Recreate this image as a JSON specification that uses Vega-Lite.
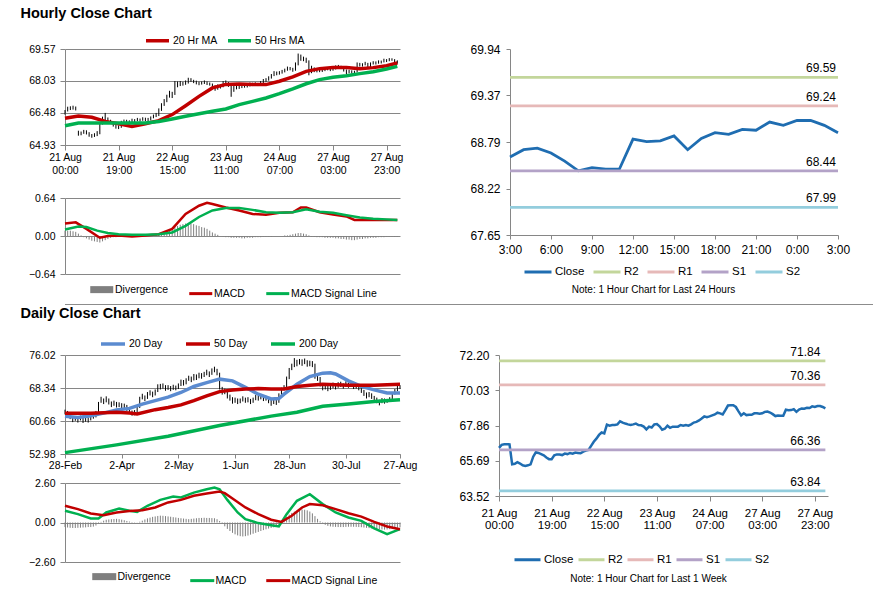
{
"$schema": "https://vega.github.io/schema/vega-lite/v6.json",
"padding": {"left": 20, "top": 5, "right": 0, "bottom": 0},
"config": {
 "view": {"stroke": null},
 "font": "Liberation Sans",
 "axis": {"labelFont": "Liberation Sans", "labelColor": "#000000", "domainColor": "#868686", "tickColor": "#868686", "gridColor": "#868686", "gridOpacity": 1},
 "legend": {"labelFont": "Liberation Sans", "labelColor": "#000000", "padding": 0},
 "title": {"font": "Liberation Sans", "color": "#000000"},
 "text": {"font": "Liberation Sans"}
},
"datasets": {
 "hourly": [
  {"i":0,"c":66.48,"h":66.62,"l":66.40,"d":0.09},{"i":1,"c":66.67,"h":66.78,"l":66.55,"d":0.09},{"i":2,"c":66.71,"h":66.80,"l":66.62,"d":0.09},{"i":3,"c":66.71,"h":66.83,"l":66.64,"d":0.08},{"i":4,"c":66.70,"h":66.79,"l":66.60,"d":0.07},
  {"i":5,"c":65.47,"h":65.62,"l":65.38,"d":0.04},{"i":6,"c":65.50,"h":65.58,"l":65.40,"d":0.01},{"i":7,"c":65.60,"h":65.66,"l":65.47,"d":-0.02},{"i":8,"c":65.52,"h":65.64,"l":65.44,"d":-0.04},{"i":9,"c":65.41,"h":65.55,"l":65.33,"d":-0.06},
  {"i":10,"c":65.37,"h":65.46,"l":65.28,"d":-0.08},{"i":11,"c":65.41,"h":65.50,"l":65.32,"d":-0.09},{"i":12,"c":65.47,"h":65.60,"l":65.36,"d":-0.10},{"i":13,"c":65.94,"h":66.02,"l":65.45,"d":-0.11},{"i":14,"c":66.21,"h":66.30,"l":65.92,"d":-0.09},
  {"i":15,"c":66.17,"h":66.48,"l":66.08,"d":-0.07},{"i":16,"c":66.10,"h":66.26,"l":66.02,"d":-0.05},{"i":17,"c":66.02,"h":66.15,"l":65.95,"d":-0.03},{"i":18,"c":65.89,"h":66.05,"l":65.82,"d":-0.02},{"i":19,"c":65.79,"h":65.94,"l":65.72,"d":-0.02},
  {"i":20,"c":65.79,"h":65.88,"l":65.70,"d":-0.01},{"i":21,"c":66.02,"h":66.10,"l":65.76,"d":-0.01},{"i":22,"c":66.08,"h":66.16,"l":65.98,"d":0.00},{"i":23,"c":66.08,"h":66.15,"l":66.00,"d":-0.01},{"i":24,"c":66.04,"h":66.12,"l":65.96,"d":0.00},
  {"i":25,"c":66.13,"h":66.20,"l":66.02,"d":0.01},{"i":26,"c":66.10,"h":66.18,"l":66.03,"d":0.00},{"i":27,"c":66.17,"h":66.24,"l":66.08,"d":0.01},{"i":28,"c":66.13,"h":66.21,"l":66.06,"d":0.01},{"i":29,"c":66.19,"h":66.27,"l":66.10,"d":0.01},
  {"i":30,"c":66.17,"h":66.25,"l":66.09,"d":0.01},{"i":31,"c":66.15,"h":66.24,"l":66.08,"d":0.02},{"i":32,"c":66.25,"h":66.31,"l":66.12,"d":0.02},{"i":33,"c":66.32,"h":66.40,"l":66.22,"d":0.02},{"i":34,"c":66.36,"h":66.48,"l":66.28,"d":0.03},
  {"i":35,"c":66.61,"h":66.70,"l":66.33,"d":0.04},{"i":36,"c":66.86,"h":66.95,"l":66.58,"d":0.05},{"i":37,"c":67.05,"h":67.15,"l":66.82,"d":0.07},{"i":38,"c":67.28,"h":67.36,"l":67.00,"d":0.09},{"i":39,"c":67.43,"h":67.55,"l":67.22,"d":0.11},
  {"i":40,"c":67.37,"h":67.50,"l":67.20,"d":0.13},{"i":41,"c":67.91,"h":68.02,"l":67.35,"d":0.15},{"i":42,"c":67.85,"h":68.00,"l":67.72,"d":0.17},{"i":43,"c":67.89,"h":68.02,"l":67.78,"d":0.19},{"i":44,"c":67.89,"h":67.98,"l":67.80,"d":0.20},
  {"i":45,"c":67.93,"h":68.05,"l":67.84,"d":0.21},{"i":46,"c":68.12,"h":68.18,"l":67.90,"d":0.22},{"i":47,"c":68.04,"h":68.16,"l":67.98,"d":0.21},{"i":48,"c":67.98,"h":68.08,"l":67.92,"d":0.20},{"i":49,"c":67.93,"h":68.04,"l":67.86,"d":0.18},
  {"i":50,"c":67.89,"h":67.99,"l":67.82,"d":0.17},{"i":51,"c":67.93,"h":68.00,"l":67.85,"d":0.15},{"i":52,"c":67.98,"h":68.05,"l":67.88,"d":0.14},{"i":53,"c":67.89,"h":68.00,"l":67.83,"d":0.12},{"i":54,"c":67.87,"h":67.95,"l":67.80,"d":0.09},
  {"i":55,"c":67.79,"h":67.90,"l":67.72,"d":0.06},{"i":56,"c":67.62,"h":67.82,"l":67.55,"d":0.04},{"i":57,"c":67.79,"h":67.86,"l":67.60,"d":0.02},{"i":58,"c":67.74,"h":67.85,"l":67.66,"d":0.00},{"i":59,"c":67.93,"h":68.02,"l":67.72,"d":-0.01},
  {"i":60,"c":67.95,"h":68.05,"l":67.85,"d":-0.02},{"i":61,"c":67.81,"h":67.97,"l":67.74,"d":-0.02},{"i":62,"c":67.60,"h":67.85,"l":67.26,"d":-0.03},{"i":63,"c":67.66,"h":67.78,"l":67.50,"d":-0.03},{"i":64,"c":67.85,"h":67.93,"l":67.62,"d":-0.03},
  {"i":65,"c":67.72,"h":67.88,"l":67.64,"d":-0.03},{"i":66,"c":67.79,"h":67.87,"l":67.68,"d":-0.04},{"i":67,"c":67.79,"h":67.86,"l":67.70,"d":-0.04},{"i":68,"c":67.79,"h":67.88,"l":67.71,"d":-0.03},{"i":69,"c":67.89,"h":67.95,"l":67.76,"d":-0.03},
  {"i":70,"c":67.85,"h":67.94,"l":67.78,"d":-0.03},{"i":71,"c":67.89,"h":67.96,"l":67.80,"d":-0.02},{"i":72,"c":67.85,"h":67.93,"l":67.78,"d":-0.02},{"i":73,"c":67.93,"h":68.02,"l":67.83,"d":-0.02},{"i":74,"c":68.04,"h":68.12,"l":67.90,"d":-0.01},
  {"i":75,"c":68.08,"h":68.16,"l":67.98,"d":-0.01},{"i":76,"c":68.17,"h":68.25,"l":68.04,"d":-0.01},{"i":77,"c":68.29,"h":68.36,"l":68.14,"d":-0.01},{"i":78,"c":68.42,"h":68.50,"l":68.26,"d":0.00},{"i":79,"c":68.37,"h":68.48,"l":68.30,"d":0.00},
  {"i":80,"c":68.42,"h":68.50,"l":68.33,"d":0.00},{"i":81,"c":68.48,"h":68.56,"l":68.38,"d":0.00},{"i":82,"c":68.54,"h":68.62,"l":68.44,"d":0.01},{"i":83,"c":68.65,"h":68.72,"l":68.52,"d":0.01},{"i":84,"c":68.61,"h":68.70,"l":68.54,"d":0.02},
  {"i":85,"c":68.54,"h":68.66,"l":68.47,"d":0.03},{"i":86,"c":68.80,"h":68.92,"l":68.52,"d":0.04},{"i":87,"c":69.09,"h":69.35,"l":68.78,"d":0.05},{"i":88,"c":69.11,"h":69.30,"l":69.00,"d":0.05},{"i":89,"c":69.11,"h":69.20,"l":68.98,"d":0.04},
  {"i":90,"c":69.00,"h":69.15,"l":68.90,"d":0.03},{"i":91,"c":68.73,"h":69.02,"l":68.30,"d":0.01},{"i":92,"c":68.48,"h":68.76,"l":68.40,"d":-0.01},{"i":93,"c":68.61,"h":68.68,"l":68.45,"d":-0.01},{"i":94,"c":68.50,"h":68.64,"l":68.44,"d":-0.02},
  {"i":95,"c":68.52,"h":68.60,"l":68.45,"d":-0.02},{"i":96,"c":68.52,"h":68.62,"l":68.46,"d":-0.02},{"i":97,"c":68.61,"h":68.68,"l":68.50,"d":-0.03},{"i":98,"c":68.61,"h":68.70,"l":68.54,"d":-0.03},{"i":99,"c":68.58,"h":68.66,"l":68.50,"d":-0.03},
  {"i":100,"c":68.61,"h":68.70,"l":68.52,"d":-0.03},{"i":101,"c":68.70,"h":68.78,"l":68.58,"d":-0.04},{"i":102,"c":68.72,"h":68.80,"l":68.64,"d":-0.04},{"i":103,"c":68.66,"h":68.76,"l":68.60,"d":-0.05},{"i":104,"c":68.56,"h":68.68,"l":68.48,"d":-0.05},
  {"i":105,"c":68.44,"h":68.58,"l":68.36,"d":-0.06},{"i":106,"c":68.48,"h":68.56,"l":68.40,"d":-0.06},{"i":107,"c":68.46,"h":68.54,"l":68.38,"d":-0.07},{"i":108,"c":68.46,"h":68.52,"l":68.36,"d":-0.07},{"i":109,"c":68.83,"h":68.92,"l":68.44,"d":-0.06},
  {"i":110,"c":68.80,"h":68.90,"l":68.72,"d":-0.05},{"i":111,"c":68.81,"h":68.88,"l":68.72,"d":-0.05},{"i":112,"c":68.87,"h":68.95,"l":68.78,"d":-0.04},{"i":113,"c":68.70,"h":68.90,"l":68.64,"d":-0.04},{"i":114,"c":68.84,"h":68.92,"l":68.68,"d":-0.03},
  {"i":115,"c":68.91,"h":68.98,"l":68.82,"d":-0.03},{"i":116,"c":68.89,"h":68.97,"l":68.82,"d":-0.03},{"i":117,"c":68.95,"h":69.02,"l":68.86,"d":-0.02},{"i":118,"c":68.94,"h":69.01,"l":68.87,"d":-0.02},{"i":119,"c":69.04,"h":69.10,"l":68.92,"d":-0.02},
  {"i":120,"c":69.00,"h":69.08,"l":68.94,"d":-0.01},{"i":121,"c":69.06,"h":69.13,"l":68.98,"d":-0.01},{"i":122,"c":69.06,"h":69.12,"l":69.00,"d":-0.01},{"i":123,"c":69.00,"h":69.08,"l":68.92,"d":-0.01},{"i":124,"c":68.91,"h":69.02,"l":68.86,"d":-0.01}
 ],
 "hma": [
  {"i":0,"s":"20 Hr MA","v":66.22},{"i":5,"s":"20 Hr MA","v":66.33},{"i":10,"s":"20 Hr MA","v":66.27},{"i":15,"s":"20 Hr MA","v":66.07},{"i":20,"s":"20 Hr MA","v":65.96},{"i":25,"s":"20 Hr MA","v":65.83},{"i":30,"s":"20 Hr MA","v":65.96},{"i":35,"s":"20 Hr MA","v":66.11},{"i":40,"s":"20 Hr MA","v":66.40},{"i":45,"s":"20 Hr MA","v":66.83},{"i":50,"s":"20 Hr MA","v":67.28},{"i":55,"s":"20 Hr MA","v":67.69},{"i":60,"s":"20 Hr MA","v":67.86},{"i":65,"s":"20 Hr MA","v":67.88},{"i":70,"s":"20 Hr MA","v":67.85},{"i":75,"s":"20 Hr MA","v":67.85},{"i":80,"s":"20 Hr MA","v":68.01},{"i":85,"s":"20 Hr MA","v":68.22},{"i":90,"s":"20 Hr MA","v":68.49},{"i":95,"s":"20 Hr MA","v":68.62},{"i":100,"s":"20 Hr MA","v":68.68},{"i":105,"s":"20 Hr MA","v":68.67},{"i":110,"s":"20 Hr MA","v":68.62},{"i":115,"s":"20 Hr MA","v":68.67},{"i":120,"s":"20 Hr MA","v":68.76},{"i":124,"s":"20 Hr MA","v":68.89},
  {"i":0,"s":"50 Hrs MA","v":65.86},{"i":5,"s":"50 Hrs MA","v":65.99},{"i":10,"s":"50 Hrs MA","v":65.99},{"i":15,"s":"50 Hrs MA","v":65.99},{"i":20,"s":"50 Hrs MA","v":65.99},{"i":25,"s":"50 Hrs MA","v":65.99},{"i":30,"s":"50 Hrs MA","v":65.99},{"i":35,"s":"50 Hrs MA","v":66.07},{"i":40,"s":"50 Hrs MA","v":66.19},{"i":45,"s":"50 Hrs MA","v":66.32},{"i":50,"s":"50 Hrs MA","v":66.44},{"i":55,"s":"50 Hrs MA","v":66.56},{"i":60,"s":"50 Hrs MA","v":66.67},{"i":65,"s":"50 Hrs MA","v":66.88},{"i":70,"s":"50 Hrs MA","v":67.04},{"i":75,"s":"50 Hrs MA","v":67.20},{"i":80,"s":"50 Hrs MA","v":67.41},{"i":85,"s":"50 Hrs MA","v":67.64},{"i":90,"s":"50 Hrs MA","v":67.89},{"i":95,"s":"50 Hrs MA","v":68.09},{"i":100,"s":"50 Hrs MA","v":68.20},{"i":105,"s":"50 Hrs MA","v":68.28},{"i":110,"s":"50 Hrs MA","v":68.38},{"i":115,"s":"50 Hrs MA","v":68.47},{"i":120,"s":"50 Hrs MA","v":68.60},{"i":124,"s":"50 Hrs MA","v":68.73}
 ],
 "hmacd": [
  {"i":0,"s":"MACD","v":0.21},{"i":4,"s":"MACD","v":0.23},{"i":8,"s":"MACD","v":0.12},{"i":12,"s":"MACD","v":0.0},{"i":13,"s":"MACD","v":-0.03},{"i":16,"s":"MACD","v":0.0},{"i":20,"s":"MACD","v":0.01},{"i":25,"s":"MACD","v":-0.01},{"i":30,"s":"MACD","v":0.01},{"i":35,"s":"MACD","v":0.03},{"i":40,"s":"MACD","v":0.12},{"i":45,"s":"MACD","v":0.37},{"i":50,"s":"MACD","v":0.51},{"i":53,"s":"MACD","v":0.56},{"i":55,"s":"MACD","v":0.54},{"i":60,"s":"MACD","v":0.48},{"i":65,"s":"MACD","v":0.43},{"i":70,"s":"MACD","v":0.37},{"i":75,"s":"MACD","v":0.36},{"i":80,"s":"MACD","v":0.39},{"i":85,"s":"MACD","v":0.40},{"i":88,"s":"MACD","v":0.48},{"i":90,"s":"MACD","v":0.48},{"i":95,"s":"MACD","v":0.40},{"i":100,"s":"MACD","v":0.36},{"i":105,"s":"MACD","v":0.33},{"i":108,"s":"MACD","v":0.27},{"i":115,"s":"MACD","v":0.27},{"i":120,"s":"MACD","v":0.27},{"i":124,"s":"MACD","v":0.27},
  {"i":0,"s":"MACD Signal Line","v":0.11},{"i":5,"s":"MACD Signal Line","v":0.16},{"i":8,"s":"MACD Signal Line","v":0.15},{"i":12,"s":"MACD Signal Line","v":0.09},{"i":16,"s":"MACD Signal Line","v":0.05},{"i":20,"s":"MACD Signal Line","v":0.03},{"i":25,"s":"MACD Signal Line","v":0.02},{"i":30,"s":"MACD Signal Line","v":0.02},{"i":35,"s":"MACD Signal Line","v":0.03},{"i":40,"s":"MACD Signal Line","v":0.06},{"i":45,"s":"MACD Signal Line","v":0.17},{"i":50,"s":"MACD Signal Line","v":0.32},{"i":55,"s":"MACD Signal Line","v":0.43},{"i":60,"s":"MACD Signal Line","v":0.47},{"i":65,"s":"MACD Signal Line","v":0.47},{"i":70,"s":"MACD Signal Line","v":0.44},{"i":75,"s":"MACD Signal Line","v":0.40},{"i":80,"s":"MACD Signal Line","v":0.39},{"i":85,"s":"MACD Signal Line","v":0.40},{"i":90,"s":"MACD Signal Line","v":0.45},{"i":95,"s":"MACD Signal Line","v":0.41},{"i":100,"s":"MACD Signal Line","v":0.39},{"i":105,"s":"MACD Signal Line","v":0.35},{"i":110,"s":"MACD Signal Line","v":0.31},{"i":115,"s":"MACD Signal Line","v":0.29},{"i":120,"s":"MACD Signal Line","v":0.28},{"i":124,"s":"MACD Signal Line","v":0.27}
 ],
 "r1": [
  {"x":0,"s":"Close","v":68.61},{"x":1,"s":"Close","v":68.70},{"x":2,"s":"Close","v":68.72},{"x":3,"s":"Close","v":68.66},{"x":4,"s":"Close","v":68.56},{"x":5,"s":"Close","v":68.44},{"x":6,"s":"Close","v":68.48},{"x":7,"s":"Close","v":68.46},{"x":8,"s":"Close","v":68.46},{"x":9,"s":"Close","v":68.83},{"x":10,"s":"Close","v":68.80},{"x":11,"s":"Close","v":68.81},{"x":12,"s":"Close","v":68.87},{"x":13,"s":"Close","v":68.70},{"x":14,"s":"Close","v":68.84},{"x":15,"s":"Close","v":68.91},{"x":16,"s":"Close","v":68.89},{"x":17,"s":"Close","v":68.95},{"x":18,"s":"Close","v":68.94},{"x":19,"s":"Close","v":69.04},{"x":20,"s":"Close","v":69.00},{"x":21,"s":"Close","v":69.06},{"x":22,"s":"Close","v":69.06},{"x":23,"s":"Close","v":69.00},{"x":24,"s":"Close","v":68.91},
  {"x":0,"s":"R2","v":69.59},{"x":24,"s":"R2","v":69.59},{"x":0,"s":"R1","v":69.24},{"x":24,"s":"R1","v":69.24},{"x":0,"s":"S1","v":68.44},{"x":24,"s":"S1","v":68.44},{"x":0,"s":"S2","v":67.99},{"x":24,"s":"S2","v":67.99}
 ],
 "lv2": [
  {"x":0,"s":"R2","v":71.84},{"x":124,"s":"R2","v":71.84},{"x":0,"s":"R1","v":70.36},{"x":124,"s":"R1","v":70.36},{"x":0,"s":"S1","v":66.36},{"x":124,"s":"S1","v":66.36},{"x":0,"s":"S2","v":63.84},{"x":124,"s":"S2","v":63.84}
 ],
 "daily": [
  {"i":0,"c":62.8,"h":63.3,"l":62.2,"d":-0.30},{"i":1,"c":62.3,"h":63.0,"l":61.9,"d":-0.33},{"i":2,"c":61.5,"h":62.4,"l":61.1,"d":-0.35},{"i":3,"c":61.0,"h":61.7,"l":60.4,"d":-0.36},{"i":4,"c":61.2,"h":61.8,"l":60.7,"d":-0.36},
  {"i":5,"c":60.9,"h":61.5,"l":60.3,"d":-0.35},{"i":6,"c":61.3,"h":61.9,"l":60.8,"d":-0.34},{"i":7,"c":60.7,"h":61.4,"l":60.2,"d":-0.33},{"i":8,"c":61.1,"h":61.6,"l":60.5,"d":-0.32},{"i":9,"c":60.8,"h":61.5,"l":60.3,"d":-0.30},
  {"i":10,"c":61.4,"h":61.9,"l":60.8,"d":-0.30},{"i":11,"c":61.6,"h":62.3,"l":61.2,"d":-0.27},{"i":12,"c":62.5,"h":63.0,"l":61.5,"d":-0.20},{"i":13,"c":64.8,"h":65.1,"l":62.4,"d":-0.08},{"i":14,"c":65.5,"h":66.3,"l":64.9,"d":0.04},
  {"i":15,"c":65.1,"h":65.9,"l":64.6,"d":0.12},{"i":16,"c":65.8,"h":66.4,"l":65.0,"d":0.18},{"i":17,"c":64.9,"h":65.9,"l":64.5,"d":0.20},{"i":18,"c":64.4,"h":65.2,"l":63.9,"d":0.22},{"i":19,"c":64.9,"h":65.4,"l":64.2,"d":0.23},
  {"i":20,"c":64.2,"h":65.1,"l":63.8,"d":0.24},{"i":21,"c":64.6,"h":65.0,"l":63.9,"d":0.22},{"i":22,"c":63.9,"h":64.8,"l":63.5,"d":0.19},{"i":23,"c":64.3,"h":64.7,"l":63.6,"d":0.15},{"i":24,"c":63.5,"h":64.4,"l":63.0,"d":0.10},
  {"i":25,"c":62.9,"h":63.8,"l":62.5,"d":0.06},{"i":26,"c":62.4,"h":63.1,"l":61.9,"d":0.03},{"i":27,"c":62.6,"h":63.2,"l":62.0,"d":-0.02},{"i":28,"c":63.8,"h":64.1,"l":62.4,"d":-0.01},{"i":29,"c":65.9,"h":66.3,"l":63.7,"d":0.05},
  {"i":30,"c":66.3,"h":67.0,"l":65.7,"d":0.12},{"i":31,"c":65.8,"h":66.6,"l":65.3,"d":0.20},{"i":32,"c":66.9,"h":67.4,"l":65.8,"d":0.27},{"i":33,"c":67.2,"h":67.8,"l":66.6,"d":0.32},{"i":34,"c":66.7,"h":67.5,"l":66.2,"d":0.37},
  {"i":35,"c":67.5,"h":68.0,"l":66.6,"d":0.40},{"i":36,"c":68.8,"h":69.2,"l":67.4,"d":0.43},{"i":37,"c":68.4,"h":69.3,"l":68.0,"d":0.45},{"i":38,"c":68.9,"h":69.4,"l":68.2,"d":0.44},{"i":39,"c":68.1,"h":69.0,"l":67.7,"d":0.42},
  {"i":40,"c":68.5,"h":69.0,"l":67.9,"d":0.40},{"i":41,"c":68.0,"h":68.8,"l":67.6,"d":0.38},{"i":42,"c":68.6,"h":69.1,"l":67.9,"d":0.35},{"i":43,"c":68.3,"h":68.9,"l":67.8,"d":0.33},{"i":44,"c":68.9,"h":69.4,"l":68.1,"d":0.30},
  {"i":45,"c":69.8,"h":70.3,"l":68.8,"d":0.28},{"i":46,"c":69.3,"h":70.2,"l":68.9,"d":0.26},{"i":47,"c":70.1,"h":70.6,"l":69.2,"d":0.24},{"i":48,"c":70.6,"h":71.2,"l":70.0,"d":0.22},{"i":49,"c":70.2,"h":71.0,"l":69.7,"d":0.24},
  {"i":50,"c":71.1,"h":71.6,"l":70.1,"d":0.26},{"i":51,"c":70.7,"h":71.5,"l":70.2,"d":0.28},{"i":52,"c":71.3,"h":71.9,"l":70.6,"d":0.30},{"i":53,"c":71.0,"h":71.8,"l":70.5,"d":0.30},{"i":54,"c":71.5,"h":72.1,"l":70.9,"d":0.31},
  {"i":55,"c":71.9,"h":72.6,"l":71.3,"d":0.30},{"i":56,"c":71.4,"h":72.2,"l":70.9,"d":0.30},{"i":57,"c":72.3,"h":72.9,"l":71.4,"d":0.29},{"i":58,"c":72.6,"h":73.3,"l":72.0,"d":0.28},{"i":59,"c":71.8,"h":72.8,"l":71.3,"d":0.22},
  {"i":60,"c":68.5,"h":71.9,"l":68.0,"d":0.10},{"i":61,"c":67.2,"h":68.6,"l":66.8,"d":-0.08},{"i":62,"c":67.6,"h":68.2,"l":66.9,"d":-0.25},{"i":63,"c":66.4,"h":67.7,"l":65.9,"d":-0.42},{"i":64,"c":66.0,"h":66.8,"l":65.4,"d":-0.56},
  {"i":65,"c":65.2,"h":66.2,"l":64.7,"d":-0.68},{"i":66,"c":65.6,"h":66.1,"l":64.9,"d":-0.78},{"i":67,"c":65.1,"h":65.9,"l":64.6,"d":-0.85},{"i":68,"c":65.4,"h":65.9,"l":64.8,"d":-0.90},{"i":69,"c":65.9,"h":66.4,"l":65.2,"d":-0.92},
  {"i":70,"c":65.3,"h":66.1,"l":64.9,"d":-0.90},{"i":71,"c":65.6,"h":66.2,"l":65.0,"d":-0.86},{"i":72,"c":65.0,"h":65.8,"l":64.6,"d":-0.80},{"i":73,"c":65.7,"h":66.1,"l":64.9,"d":-0.74},{"i":74,"c":66.2,"h":66.7,"l":65.5,"d":-0.68},
  {"i":75,"c":65.9,"h":66.5,"l":65.4,"d":-0.62},{"i":76,"c":66.3,"h":66.8,"l":65.7,"d":-0.56},{"i":77,"c":65.8,"h":66.6,"l":65.3,"d":-0.50},{"i":78,"c":66.1,"h":66.5,"l":65.4,"d":-0.45},{"i":79,"c":65.2,"h":66.2,"l":64.8,"d":-0.40},
  {"i":80,"c":64.9,"h":65.6,"l":64.2,"d":-0.36},{"i":81,"c":65.3,"h":65.8,"l":64.6,"d":-0.32},{"i":82,"c":65.0,"h":65.7,"l":64.4,"d":-0.28},{"i":83,"c":66.8,"h":67.1,"l":64.9,"d":-0.15},{"i":84,"c":68.1,"h":68.4,"l":66.6,"d":0.05},
  {"i":85,"c":68.5,"h":69.0,"l":67.8,"d":0.22},{"i":86,"c":70.6,"h":71.0,"l":68.4,"d":0.38},{"i":87,"c":72.6,"h":73.0,"l":70.4,"d":0.52},{"i":88,"c":73.4,"h":74.0,"l":72.5,"d":0.63},{"i":89,"c":74.2,"h":75.3,"l":73.2,"d":0.72},
  {"i":90,"c":74.0,"h":74.9,"l":73.4,"d":0.78},{"i":91,"c":74.5,"h":75.1,"l":73.8,"d":0.82},{"i":92,"c":74.1,"h":75.0,"l":73.5,"d":0.85},{"i":93,"c":74.6,"h":75.2,"l":73.9,"d":0.84},{"i":94,"c":73.8,"h":74.8,"l":73.3,"d":0.80},
  {"i":95,"c":74.2,"h":74.7,"l":73.4,"d":0.72},{"i":96,"c":73.9,"h":74.6,"l":73.2,"d":0.60},{"i":97,"c":71.0,"h":74.0,"l":70.5,"d":0.42},{"i":98,"c":70.6,"h":71.5,"l":70.0,"d":0.24},{"i":99,"c":69.2,"h":70.9,"l":68.7,"d":0.08},
  {"i":100,"c":68.4,"h":69.5,"l":67.8,"d":-0.06},{"i":101,"c":68.8,"h":69.3,"l":68.0,"d":-0.15},{"i":102,"c":68.1,"h":69.0,"l":67.6,"d":-0.22},{"i":103,"c":68.6,"h":69.1,"l":67.9,"d":-0.26},{"i":104,"c":69.0,"h":69.6,"l":68.3,"d":-0.28},
  {"i":105,"c":68.5,"h":69.3,"l":68.0,"d":-0.29},{"i":106,"c":69.3,"h":69.7,"l":68.4,"d":-0.30},{"i":107,"c":69.1,"h":69.8,"l":68.6,"d":-0.30},{"i":108,"c":68.7,"h":69.4,"l":68.2,"d":-0.30},{"i":109,"c":69.4,"h":69.9,"l":68.6,"d":-0.29},
  {"i":110,"c":68.9,"h":69.6,"l":68.4,"d":-0.28},{"i":111,"c":69.2,"h":69.7,"l":68.6,"d":-0.28},{"i":112,"c":68.6,"h":69.4,"l":68.1,"d":-0.28},{"i":113,"c":68.9,"h":69.3,"l":68.2,"d":-0.29},{"i":114,"c":68.3,"h":69.1,"l":67.8,"d":-0.30},
  {"i":115,"c":67.6,"h":68.6,"l":67.2,"d":-0.31},{"i":116,"c":67.0,"h":67.9,"l":66.5,"d":-0.33},{"i":117,"c":66.5,"h":67.3,"l":65.9,"d":-0.35},{"i":118,"c":66.9,"h":67.4,"l":66.2,"d":-0.37},{"i":119,"c":66.3,"h":67.1,"l":65.8,"d":-0.39},
  {"i":120,"c":65.8,"h":66.5,"l":65.2,"d":-0.41},{"i":121,"c":65.3,"h":66.1,"l":64.8,"d":-0.43},{"i":122,"c":64.9,"h":65.6,"l":64.3,"d":-0.45},{"i":123,"c":65.6,"h":66.0,"l":64.8,"d":-0.46},{"i":124,"c":65.2,"h":65.9,"l":64.7,"d":-0.47},
  {"i":125,"c":65.4,"h":65.8,"l":64.9,"d":-0.46},{"i":126,"c":65.8,"h":66.2,"l":65.2,"d":-0.44},{"i":127,"c":66.9,"h":67.3,"l":65.7,"d":-0.41},{"i":128,"c":67.7,"h":68.1,"l":66.8,"d":-0.38},{"i":129,"c":68.4,"h":68.9,"l":67.6,"d":-0.35},
  {"i":130,"c":68.7,"h":69.0,"l":68.1,"d":-0.32}
 ],
 "dma": [
  {"i":0,"s":"20 Day","v":61.77},{"i":5,"s":"20 Day","v":61.5},{"i":10,"s":"20 Day","v":61.9},{"i":15,"s":"20 Day","v":62.5},{"i":20,"s":"20 Day","v":63.2},{"i":25,"s":"20 Day","v":63.6},{"i":30,"s":"20 Day","v":64.6},{"i":35,"s":"20 Day","v":65.4},{"i":40,"s":"20 Day","v":66.2},{"i":45,"s":"20 Day","v":67.3},{"i":50,"s":"20 Day","v":68.7},{"i":55,"s":"20 Day","v":69.6},{"i":60,"s":"20 Day","v":70.4},{"i":65,"s":"20 Day","v":70.0},{"i":70,"s":"20 Day","v":68.5},{"i":75,"s":"20 Day","v":66.9},{"i":80,"s":"20 Day","v":65.8},{"i":83,"s":"20 Day","v":65.9},{"i":85,"s":"20 Day","v":66.9},{"i":90,"s":"20 Day","v":69.2},{"i":95,"s":"20 Day","v":71.0},{"i":100,"s":"20 Day","v":71.8},{"i":103,"s":"20 Day","v":71.9},{"i":105,"s":"20 Day","v":71.6},{"i":110,"s":"20 Day","v":70.0},{"i":115,"s":"20 Day","v":68.7},{"i":120,"s":"20 Day","v":67.9},{"i":125,"s":"20 Day","v":67.2},{"i":130,"s":"20 Day","v":67.2},
  {"i":0,"s":"50 Day","v":62.46},{"i":10,"s":"50 Day","v":62.46},{"i":20,"s":"50 Day","v":62.7},{"i":25,"s":"50 Day","v":62.5},{"i":28,"s":"50 Day","v":62.3},{"i":35,"s":"50 Day","v":63.3},{"i":40,"s":"50 Day","v":63.8},{"i":45,"s":"50 Day","v":64.4},{"i":50,"s":"50 Day","v":65.4},{"i":55,"s":"50 Day","v":66.5},{"i":60,"s":"50 Day","v":67.5},{"i":65,"s":"50 Day","v":67.9},{"i":70,"s":"50 Day","v":68.1},{"i":75,"s":"50 Day","v":68.2},{"i":80,"s":"50 Day","v":68.1},{"i":85,"s":"50 Day","v":68.1},{"i":90,"s":"50 Day","v":68.7},{"i":95,"s":"50 Day","v":69.0},{"i":100,"s":"50 Day","v":69.2},{"i":110,"s":"50 Day","v":69.0},{"i":120,"s":"50 Day","v":69.0},{"i":130,"s":"50 Day","v":69.2},
  {"i":0,"s":"200 Day","v":53.3},{"i":20,"s":"200 Day","v":55.1},{"i":40,"s":"200 Day","v":57.1},{"i":60,"s":"200 Day","v":59.6},{"i":80,"s":"200 Day","v":61.8},{"i":90,"s":"200 Day","v":62.7},{"i":100,"s":"200 Day","v":64.1},{"i":110,"s":"200 Day","v":64.6},{"i":120,"s":"200 Day","v":65.2},{"i":130,"s":"200 Day","v":65.6}
 ],
 "dmacd": [
  {"i":0,"s":"MACD","v":0.77},{"i":5,"s":"MACD","v":0.55},{"i":10,"s":"MACD","v":0.26},{"i":13,"s":"MACD","v":0.26},{"i":16,"s":"MACD","v":0.66},{"i":21,"s":"MACD","v":0.92},{"i":25,"s":"MACD","v":0.77},{"i":28,"s":"MACD","v":0.70},{"i":32,"s":"MACD","v":1.10},{"i":37,"s":"MACD","v":1.49},{"i":42,"s":"MACD","v":1.71},{"i":45,"s":"MACD","v":1.65},{"i":50,"s":"MACD","v":1.97},{"i":55,"s":"MACD","v":2.19},{"i":58,"s":"MACD","v":2.30},{"i":60,"s":"MACD","v":2.19},{"i":63,"s":"MACD","v":1.49},{"i":67,"s":"MACD","v":0.66},{"i":70,"s":"MACD","v":0.22},{"i":75,"s":"MACD","v":-0.04},{"i":80,"s":"MACD","v":-0.18},{"i":83,"s":"MACD","v":-0.26},{"i":86,"s":"MACD","v":0.55},{"i":90,"s":"MACD","v":1.43},{"i":95,"s":"MACD","v":1.86},{"i":100,"s":"MACD","v":1.21},{"i":105,"s":"MACD","v":0.66},{"i":110,"s":"MACD","v":0.33},{"i":115,"s":"MACD","v":0.11},{"i":120,"s":"MACD","v":-0.39},{"i":125,"s":"MACD","v":-0.77},{"i":130,"s":"MACD","v":-0.44},
  {"i":0,"s":"MACD Signal Line","v":1.10},{"i":5,"s":"MACD Signal Line","v":0.88},{"i":10,"s":"MACD Signal Line","v":0.59},{"i":15,"s":"MACD Signal Line","v":0.48},{"i":20,"s":"MACD Signal Line","v":0.66},{"i":25,"s":"MACD Signal Line","v":0.75},{"i":30,"s":"MACD Signal Line","v":0.81},{"i":35,"s":"MACD Signal Line","v":0.99},{"i":40,"s":"MACD Signal Line","v":1.32},{"i":45,"s":"MACD Signal Line","v":1.49},{"i":50,"s":"MACD Signal Line","v":1.76},{"i":55,"s":"MACD Signal Line","v":1.91},{"i":60,"s":"MACD Signal Line","v":2.04},{"i":62,"s":"MACD Signal Line","v":1.93},{"i":65,"s":"MACD Signal Line","v":1.58},{"i":70,"s":"MACD Signal Line","v":0.99},{"i":75,"s":"MACD Signal Line","v":0.55},{"i":80,"s":"MACD Signal Line","v":0.18},{"i":84,"s":"MACD Signal Line","v":0.04},{"i":88,"s":"MACD Signal Line","v":0.44},{"i":92,"s":"MACD Signal Line","v":0.99},{"i":95,"s":"MACD Signal Line","v":1.21},{"i":100,"s":"MACD Signal Line","v":1.14},{"i":105,"s":"MACD Signal Line","v":0.88},{"i":110,"s":"MACD Signal Line","v":0.61},{"i":115,"s":"MACD Signal Line","v":0.39},{"i":120,"s":"MACD Signal Line","v":0.04},{"i":125,"s":"MACD Signal Line","v":-0.26},{"i":130,"s":"MACD Signal Line","v":-0.44}
 ]
},
"resolve": {"scale": {"color": "independent"}},
"spacing": 0,
"vconcat": [
 {
  "title": {"text": "Hourly Close Chart", "anchor": "start", "fontSize": 14.5, "fontWeight": "bold", "baseline": "top", "offset": 6, "dx": -8},
  "spacing": 64,
  "resolve": {"scale": {"color": "independent"}},
  "hconcat": [
   {
    "bounds": "flush",
    "spacing": 53,
    "resolve": {"scale": {"color": "independent"}},
    "vconcat": [
     {
      "width": 335, "height": 96,
      "layer": [
       {
        "data": {"name": "hourly"},
        "mark": {"type": "rule", "color": "#000000", "strokeWidth": 1},
        "encoding": {
         "x": {"field": "i", "type": "quantitative", "scale": {"domain": [0, 125], "nice": false, "zero": false},
          "axis": {"title": null, "values": [0, 20, 40, 60, 80, 100, 120], "tickCount": 20, "labelExpr": "[['21 Aug','00:00'],['21 Aug','19:00'],['22 Aug','15:00'],['23 Aug','11:00'],['24 Aug','07:00'],['27 Aug','03:00'],['27 Aug','23:00']][round(datum.value/20)]", "grid": false, "tickSize": 5, "labelPadding": 2, "labelFontSize": 10.5, "labelLineHeight": 13.5, "labelFlush": false, "labelOverlap": false}},
         "y": {"field": "l", "type": "quantitative", "scale": {"domain": [64.93, 69.57], "nice": false, "zero": false},
          "axis": {"title": null, "values": [64.93, 66.48, 68.03, 69.57], "tickCount": 20, "format": ".2f", "grid": true, "tickSize": 5, "labelPadding": 5, "labelFontSize": 10.5, "labelOverlap": false}},
         "y2": {"field": "h"}
        }
       },
       {
        "data": {"name": "hma"},
        "mark": {"type": "line", "strokeWidth": 3.5},
        "encoding": {
         "x": {"field": "i", "type": "quantitative"},
         "y": {"field": "v", "type": "quantitative"},
         "color": {"field": "s", "type": "nominal", "scale": {"domain": ["20 Hr MA", "50 Hrs MA"], "range": ["#c00000", "#00b050"]},
          "legend": {"orient": "none", "legendX": 79, "legendY": -22, "direction": "horizontal", "title": null, "symbolType": "stroke", "symbolSize": 529, "symbolStrokeWidth": 3.5, "labelFontSize": 10.5, "columnPadding": 3, "labelOffset": 2}}
        }
       }
      ]
     },
     {
      "width": 335, "height": 76,
      "layer": [
       {
        "data": {"name": "hourly"},
        "mark": {"type": "rule", "strokeWidth": 1, "color": "#7f7f7f"},
        "encoding": {
         "x": {"field": "i", "type": "quantitative", "scale": {"domain": [0, 125], "nice": false, "zero": false}, "axis": null},
         "y": {"field": "d", "type": "quantitative", "scale": {"domain": [-0.64, 0.64], "nice": false},
          "axis": {"title": null, "values": [-0.64, 0, 0.64], "tickCount": 20, "format": ".2f", "grid": true, "tickSize": 5, "labelPadding": 5, "labelFontSize": 10.5, "labelOverlap": false}},
         "y2": {"datum": 0}
        }
       },
       {
        "data": {"name": "hmacd"},
        "mark": {"type": "line", "strokeWidth": 2.5},
        "encoding": {
         "x": {"field": "i", "type": "quantitative"},
         "y": {"field": "v", "type": "quantitative"},
         "color": {"field": "s", "type": "nominal", "scale": {"domain": ["Divergence", "MACD", "MACD Signal Line"], "range": ["#7f7f7f", "#c00000", "#00b050"]},
          "legend": {"orient": "none", "legendX": 31.5, "legendY": 86, "direction": "horizontal", "title": null, "symbolType": "stroke", "symbolSize": 529, "symbolStrokeWidth": 3, "labelFontSize": 10.5, "columnPadding": 14, "labelOffset": 8,
           "encode": {"symbols": {"update": {"strokeWidth": {"signal": "datum.value === 'Divergence' ? 7 : 3"}}}}}}
        }
       }
      ]
     }
    ]
   },
   {
    "width": 328, "height": 186,
    "layer": [
     {
      "data": {"name": "r1"},
      "mark": {"type": "line", "strokeWidth": 2.8},
      "encoding": {
       "x": {"field": "x", "type": "quantitative", "scale": {"domain": [0, 24], "nice": false, "zero": false},
        "axis": {"title": "Note: 1 Hour Chart for Last 24 Hours", "titleX": 143, "titleAlign": "center", "titleBaseline": "top", "titlePadding": 29.5, "titleFontSize": 10, "titleFontWeight": "normal", "titleFont": "Liberation Sans", "titleColor": "#000000",
         "values": [0, 3, 6, 9, 12, 15, 18, 21, 24], "tickCount": 30, "labelExpr": "((datum.value + 3) % 24) + ':00'", "grid": false, "tickSize": 4, "labelPadding": 5, "labelFontSize": 12, "labelFlush": false, "labelOverlap": false}},
       "y": {"field": "v", "type": "quantitative", "scale": {"domain": [67.65, 69.94], "nice": false, "zero": false},
        "axis": {"title": null, "values": [67.65, 68.22, 68.79, 69.37, 69.94], "tickCount": 20, "format": ".2f", "grid": false, "tickSize": 4, "labelPadding": 6, "labelFontSize": 12, "labelOverlap": false}},
       "color": {"field": "s", "type": "nominal", "scale": {"domain": ["Close", "R2", "R1", "S1", "S2"], "range": ["#1f6db1", "#c3d69b", "#e6b9b8", "#b3a2c7", "#93cddd"]},
        "legend": {"orient": "none", "legendX": 13, "legendY": 208, "direction": "horizontal", "title": null, "symbolType": "stroke", "symbolSize": 729, "symbolStrokeWidth": 3, "labelFontSize": 11.5, "columnPadding": 2, "labelOffset": 2}}
      }
     },
     {
      "data": {"name": "r1"},
      "transform": [{"filter": "datum.s !== 'Close' && datum.x === 24"}],
      "mark": {"type": "text", "align": "right", "baseline": "alphabetic", "dx": -2, "dy": -5, "fontSize": 12, "color": "#000000"},
      "encoding": {
       "x": {"field": "x", "type": "quantitative"},
       "y": {"field": "v", "type": "quantitative"},
       "text": {"field": "v", "type": "quantitative", "format": ".2f"}
      }
     }
    ]
   }
  ]
 },
 {
  "width": 808, "height": 1,
  "data": {"values": []},
  "mark": "point",
  "view": {"stroke": null, "fill": "#8c8c8c"}
 },
 {
  "title": {"text": "Daily Close Chart", "anchor": "start", "fontSize": 14.5, "fontWeight": "bold", "baseline": "top", "offset": 9, "dx": -8},
  "spacing": 41,
  "resolve": {"scale": {"color": "independent"}},
  "hconcat": [
   {
    "bounds": "flush",
    "spacing": 29,
    "resolve": {"scale": {"color": "independent"}},
    "vconcat": [
     {
      "width": 335, "height": 99,
      "layer": [
       {
        "data": {"name": "daily"},
        "mark": {"type": "rule", "color": "#000000", "strokeWidth": 1},
        "encoding": {
         "x": {"field": "i", "type": "quantitative", "scale": {"domain": [0, 130], "nice": false, "zero": false},
          "axis": {"title": null, "values": [0, 22, 44, 66, 87, 109, 130], "tickCount": 20, "labelExpr": "['28-Feb','2-Apr','2-May','1-Jun','28-Jun','30-Jul','27-Aug'][indexof([0,22,44,66,87,109,130], datum.value)]", "grid": false, "tickSize": 4, "labelPadding": 2, "labelFontSize": 10.5, "labelFlush": false, "labelOverlap": false}},
         "y": {"field": "l", "type": "quantitative", "scale": {"domain": [52.98, 76.02], "nice": false, "zero": false},
          "axis": {"title": null, "values": [52.98, 60.66, 68.34, 76.02], "tickCount": 20, "format": ".2f", "grid": true, "tickSize": 5, "labelPadding": 5, "labelFontSize": 10.5, "labelOverlap": false}},
         "y2": {"field": "h"}
        }
       },
       {
        "data": {"name": "dma"},
        "mark": {"type": "line", "strokeWidth": 3.5},
        "encoding": {
         "x": {"field": "i", "type": "quantitative"},
         "y": {"field": "v", "type": "quantitative"},
         "color": {"field": "s", "type": "nominal", "scale": {"domain": ["20 Day", "50 Day", "200 Day"], "range": ["#5b8bd0", "#c00000", "#00b050"]},
          "legend": {"orient": "none", "legendX": 34, "legendY": -25, "direction": "horizontal", "title": null, "symbolType": "stroke", "symbolSize": 576, "symbolStrokeWidth": 3.5, "labelFontSize": 10.5, "columnPadding": 16, "labelOffset": 2}}
        }
       }
      ]
     },
     {
      "width": 335, "height": 79,
      "layer": [
       {
        "data": {"name": "daily"},
        "mark": {"type": "rule", "strokeWidth": 1, "color": "#7f7f7f"},
        "encoding": {
         "x": {"field": "i", "type": "quantitative", "scale": {"domain": [0, 130], "nice": false, "zero": false}, "axis": null},
         "y": {"field": "d", "type": "quantitative", "scale": {"domain": [-2.6, 2.6], "nice": false},
          "axis": {"title": null, "values": [-2.6, 0, 2.6], "tickCount": 20, "format": ".2f", "grid": true, "tickSize": 5, "labelPadding": 5, "labelFontSize": 10.5, "labelOverlap": false}},
         "y2": {"datum": 0}
        }
       },
       {
        "data": {"name": "dmacd"},
        "mark": {"type": "line", "strokeWidth": 2.5},
        "encoding": {
         "x": {"field": "i", "type": "quantitative"},
         "y": {"field": "v", "type": "quantitative"},
         "color": {"field": "s", "type": "nominal", "scale": {"domain": ["Divergence", "MACD", "MACD Signal Line"], "range": ["#7f7f7f", "#00b050", "#c00000"]},
          "legend": {"orient": "none", "legendX": 34, "legendY": 88, "direction": "horizontal", "title": null, "symbolType": "stroke", "symbolSize": 576, "symbolStrokeWidth": 3, "labelFontSize": 10.5, "columnPadding": 13, "labelOffset": 8,
           "encode": {"symbols": {"update": {"strokeWidth": {"signal": "datum.value === 'Divergence' ? 7 : 3"}}}}}}
        }
       }
      ]
     }
    ]
   },
   {
    "width": 329, "height": 141,
    "layer": [
     {
      "data": {"name": "hourly"},
      "mark": {"type": "line", "strokeWidth": 2.5, "color": "#1f6db1"},
      "encoding": {
       "x": {"field": "i", "type": "quantitative", "scale": {"domain": [0, 125], "nice": false, "zero": false},
        "axis": {"title": "Note: 1 Hour Chart for Last 1 Week", "titleX": 149, "titleAlign": "center", "titleBaseline": "top", "titlePadding": 42, "titleFontSize": 10, "titleFontWeight": "normal", "titleFont": "Liberation Sans", "titleColor": "#000000",
         "values": [0, 20, 40, 60, 80, 100, 120], "tickCount": 20, "labelExpr": "[['21 Aug','00:00'],['21 Aug','19:00'],['22 Aug','15:00'],['23 Aug','11:00'],['24 Aug','07:00'],['27 Aug','03:00'],['27 Aug','23:00']][round(datum.value/20)]", "grid": false, "tickSize": 5, "labelPadding": 6.5, "labelFontSize": 11.5, "labelLineHeight": 12, "labelFlush": false, "labelOverlap": false}},
       "y": {"field": "c", "type": "quantitative", "scale": {"domain": [63.52, 72.2], "nice": false, "zero": false},
        "axis": {"title": null, "values": [63.52, 65.69, 67.86, 70.03, 72.2], "tickCount": 20, "format": ".2f", "grid": false, "tickSize": 4, "labelPadding": 6, "labelFontSize": 12, "labelOverlap": false}}
      }
     },
     {
      "data": {"name": "lv2"},
      "mark": {"type": "line", "strokeWidth": 2.8},
      "encoding": {
       "x": {"field": "x", "type": "quantitative"},
       "y": {"field": "v", "type": "quantitative"},
       "color": {"field": "s", "type": "nominal", "scale": {"domain": ["Close", "R2", "R1", "S1", "S2"], "range": ["#1f6db1", "#c3d69b", "#e6b9b8", "#b3a2c7", "#93cddd"]},
        "legend": {"orient": "none", "legendX": 14, "legendY": 190, "direction": "horizontal", "title": null, "symbolType": "stroke", "symbolSize": 676, "symbolStrokeWidth": 3, "labelFontSize": 11.5, "columnPadding": -2, "labelOffset": 2}}
      }
     },
     {
      "data": {"name": "lv2"},
      "transform": [{"filter": "datum.x === 124"}],
      "mark": {"type": "text", "align": "right", "baseline": "alphabetic", "dx": -5, "dy": -5, "fontSize": 12, "color": "#000000"},
      "encoding": {
       "x": {"field": "x", "type": "quantitative"},
       "y": {"field": "v", "type": "quantitative"},
       "text": {"field": "v", "type": "quantitative", "format": ".2f"}
      }
     }
    ]
   }
  ]
 }
]
}
